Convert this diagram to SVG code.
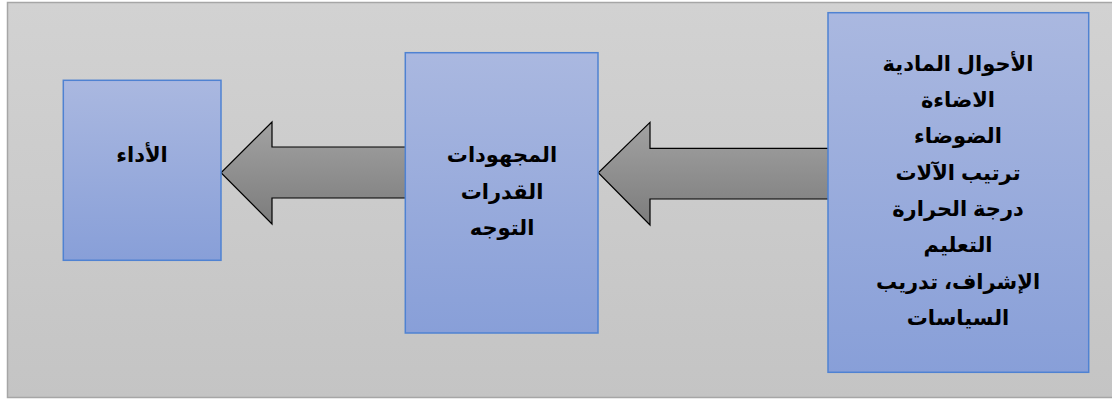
<svg xmlns="http://www.w3.org/2000/svg" width="1112" height="399" viewBox="0 0 1112 399">
<defs>
<linearGradient id="bg" x1="0" y1="0" x2="0" y2="1"><stop offset="0" stop-color="#d2d2d2"/><stop offset="1" stop-color="#c4c4c4"/></linearGradient>
<linearGradient id="box" x1="0" y1="0" x2="0" y2="1"><stop offset="0" stop-color="#aab8e0"/><stop offset="1" stop-color="#889fd8"/></linearGradient>
<linearGradient id="arr" x1="0" y1="0" x2="0" y2="1"><stop offset="0" stop-color="#a2a2a2"/><stop offset="1" stop-color="#7c7c7c"/></linearGradient>
</defs>
<style>
.box{fill:url(#box);stroke:#4f82d2;stroke-width:1.5}
.arrow{fill:url(#arr);stroke:#000;stroke-width:1.2;stroke-linejoin:miter}
.t{font-family:"Liberation Sans","DejaVu Sans",sans-serif;font-weight:bold;font-size:21px;fill:#000;text-anchor:middle}
</style>
<rect x="0" y="0" width="1112" height="399" fill="#ffffff"/>
<rect x="7.5" y="2.5" width="1110" height="395" fill="url(#bg)" stroke="#a6a6a6" stroke-width="1.5"/>
<g id="connectors">
<path class="arrow" d="M406.5,147 L272,147 L272,122 L221,172.7 L272,224 L272,198 L406.5,198 Z"/>
<path class="arrow" d="M829.5,148.3 L650,148.3 L650,122.3 L598.3,172.7 L650,225 L650,199 L829.5,199 Z"/>
</g>
<g id="node-performance">
<rect class="box" x="63.3" y="80.3" width="157.7" height="180"/>
<text class="t" x="142" y="162">الأداء</text>
</g>
<g id="node-efforts">
<rect class="box" x="405.3" y="52.7" width="192.7" height="280.3"/>
<text class="t" x="502" y="162">المجهودات</text>
<text class="t" x="502" y="199">القدرات</text>
<text class="t" x="502" y="235">التوجه</text>
</g>
<g id="node-conditions">
<rect class="box" x="828" y="12.7" width="260.7" height="359.6"/>
<text class="t" x="958" y="71">الأحوال المادية</text>
<text class="t" x="958" y="107">الاضاءة</text>
<text class="t" x="958" y="143">الضوضاء</text>
<text class="t" x="958" y="180">ترتيب الآلات</text>
<text class="t" x="958" y="216">درجة الحرارة</text>
<text class="t" x="958" y="252">التعليم</text>
<text class="t" x="958" y="289">الإشراف، تدريب</text>
<text class="t" x="958" y="325">السياسات</text>
</g>
</svg>
